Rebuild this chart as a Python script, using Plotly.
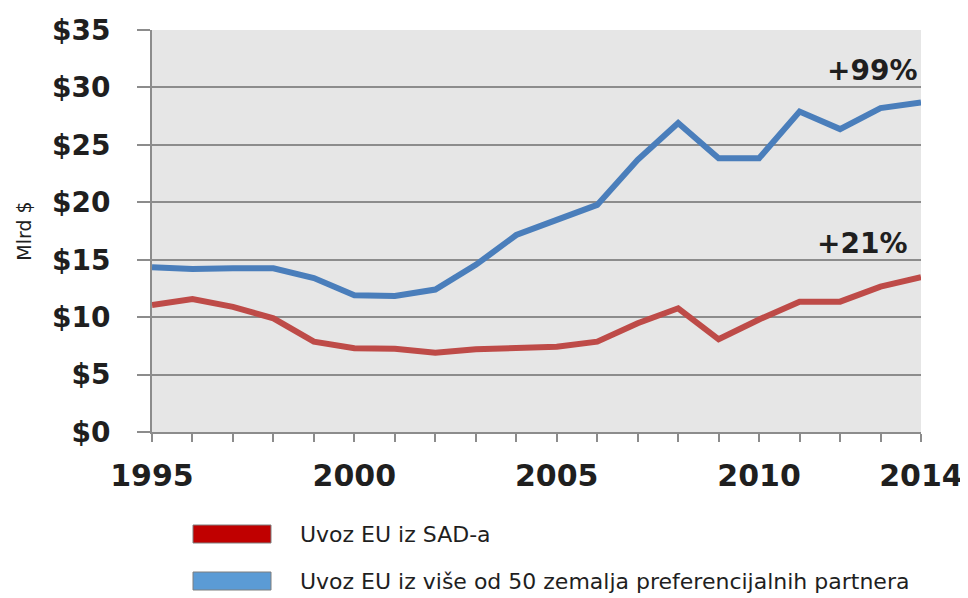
import plotly.graph_objects as go

years = list(range(1995, 2015))
usa_imports = [11.06, 11.58, 10.9, 9.9, 7.87, 7.29, 7.25, 6.9, 7.2, 7.38,
               7.43, 7.87, 9.47, 10.77, 8.07, 9.8, 11.35, 11.35, 12.66, 13.47]
pref_imports = [14.35, 14.2, 14.25, 14.25, 13.4, 11.9, 11.85, 12.4, 14.55, 17.15,
                18.47, 19.77, 23.7, 26.9, 23.84, 23.84, 27.9, 26.37, 28.2, 28.7]
series_names = ["Uvoz EU iz SAD-a", "Uvoz EU iz više od 50 zemalja preferencijalnih partnera"]
x_tick_vals = [1995, 2000, 2005, 2010, 2014]
y_tick_vals = [0, 5, 10, 15, 20, 25, 30, 35]
y_tick_text = ["$0", "$5", "$10", "$15", "$20", "$25", "$30", "$35"]
growth_labels = ["+21%", "+99%"]

# page body has an 8px default margin; size the figure to fit the window
OFF = 8
W, H = 968 - OFF, 598 - OFF
L, T = 152 - OFF, 30 - OFF
R = W - (921 - OFF)
B = H - (432 - OFF)

fig = go.Figure()
fig.add_trace(go.Scatter(x=years, y=usa_imports, mode="lines", name=series_names[0],
                         line=dict(color="#be4b48", width=6), showlegend=False))
fig.add_trace(go.Scatter(x=years, y=pref_imports, mode="lines", name=series_names[1],
                         line=dict(color="#4a7ebb", width=6), showlegend=False))

fig.add_annotation(x=2012.8, y=31.5, text="<b>" + growth_labels[1] + "</b>", showarrow=False,
                   font=dict(family="DejaVu Sans", size=28, color="#1f1f1f"))
fig.add_annotation(x=2012.55, y=16.45, text="<b>" + growth_labels[0] + "</b>", showarrow=False,
                   font=dict(family="DejaVu Sans", size=28, color="#1f1f1f"))

# manual legend (positions in page pixels of the reference)
pw = W - L - R
ph = H - T - B
def px_x(px):
    return (px - OFF - L) / pw
def px_y(py):
    return (H - B - (py - OFF)) / ph

legend_items = [(series_names[0], "#c00000", 525, 543), (series_names[1], "#5b9bd5", 572, 590)]
for name, col, y0, y1 in legend_items:
    fig.add_shape(type="rect", xref="paper", yref="paper",
                  x0=px_x(193), x1=px_x(271), y0=px_y(y1), y1=px_y(y0),
                  fillcolor=col, line=dict(color="#7f7f7f", width=1))
    fig.add_annotation(xref="paper", yref="paper", x=px_x(298), y=px_y((y0 + y1) / 2),
                       xanchor="left", yanchor="middle", text=name, showarrow=False,
                       font=dict(family="DejaVu Sans", size=22, color="#1f1f1f"))

fig.update_layout(
    width=W, height=H,
    margin=dict(l=L, r=R, t=T, b=B, autoexpand=False),
    paper_bgcolor="white",
    plot_bgcolor="#e6e6e6",
    showlegend=False,
    xaxis=dict(range=[1995, 2014], tickvals=x_tick_vals, ticks="outside", ticklen=8,
               tickwidth=2, tickcolor="#8c8c8c", showgrid=False, zeroline=False,
               showline=True, linecolor="#8c8c8c", linewidth=2, automargin=False,
               tickfont=dict(family="DejaVu Sans", size=30, color="#1f1f1f", weight="bold"),
               ticklabelstandoff=8,
               minor=dict(dtick=1, ticks="outside", ticklen=8, tickwidth=2, tickcolor="#8c8c8c",
                          showgrid=False)),
    yaxis=dict(range=[0, 35], tickvals=y_tick_vals, ticktext=y_tick_text, ticks="outside",
               ticklen=13, tickwidth=2, tickcolor="#8c8c8c", showgrid=True,
               gridcolor="#8c8c8c", gridwidth=2, zeroline=False, showline=True,
               linecolor="#8c8c8c", linewidth=2, automargin=False,
               tickfont=dict(family="DejaVu Sans", size=28, color="#1f1f1f", weight="bold"),
               ticklabelstandoff=21,
               title=dict(text="Mlrd $", font=dict(family="DejaVu Sans", size=19, color="#1f1f1f"),
                          standoff=15)),
)

fig.write_html("out.html")
